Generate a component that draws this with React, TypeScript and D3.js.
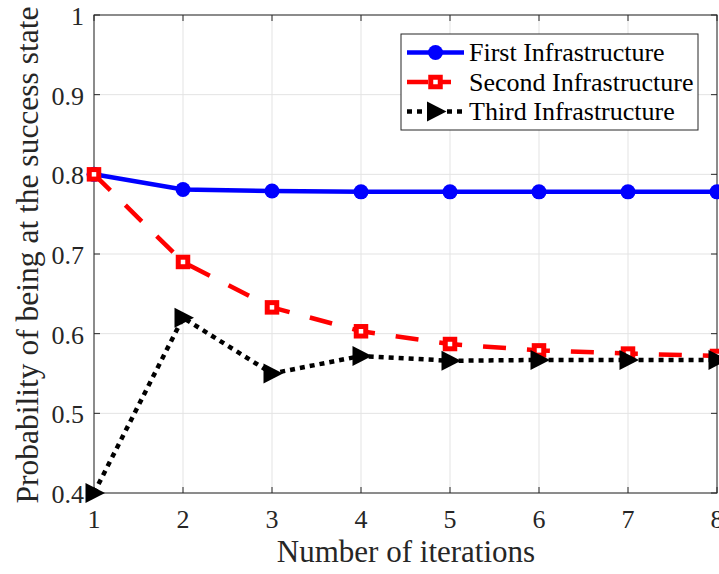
import React from "react";
import * as d3 from "d3";

const iterations = [1, 2, 3, 4, 5, 6, 7, 8];
const firstInfra = [0.8, 0.781, 0.779, 0.778, 0.778, 0.778, 0.778, 0.778];
const secondInfra = [0.8, 0.69, 0.633, 0.603, 0.587, 0.579, 0.575, 0.572];
const thirdInfra = [0.4, 0.62, 0.55, 0.572, 0.566, 0.567, 0.567, 0.567];
const xTicks = [1, 2, 3, 4, 5, 6, 7, 8];
const yTicks = [0.4, 0.5, 0.6, 0.7, 0.8, 0.9, 1];
const seriesNames = ["First Infrastructure", "Second Infrastructure", "Third Infrastructure"];

const W = 719;
const H = 574;
const M = { left: 94, right: 717, top: 15, bottom: 493 };
const FONT = "'Liberation Serif', 'Times New Roman', serif";

export default function App() {
  const x = d3.scaleLinear().domain([1, 8]).range([M.left, M.right]);
  const y = d3.scaleLinear().domain([0.4, 1]).range([M.bottom, M.top]);
  const line = d3
    .line<number>()
    .x((_, i) => x(iterations[i]))
    .y((d) => y(d));

  const series = [
    { name: seriesNames[0], data: firstInfra, color: "#0000ff", width: 4.5, dash: "none", legendDash: "none", marker: "circle" },
    { name: seriesNames[1], data: secondInfra, color: "#ff0000", width: 4.5, dash: "23 21", legendDash: "21 12 11 20", marker: "square" },
    { name: seriesNames[2], data: thirdInfra, color: "#000000", width: 4.5, dash: "5 5", legendDash: "5 5", marker: "triangle" },
  ];

  const drawMarker = (kind: string, cx: number, cy: number, color: string, key: string, scale = 1) => {
    if (kind === "circle") return <circle key={key} cx={cx} cy={cy} r={7.5 * scale} fill={color} />;
    if (kind === "square")
      return (
        <rect key={key} x={cx - 4.75} y={cy - 4.75} width={9.5} height={9.5} fill="white" stroke={color} strokeWidth={5} />
      );
    const s = 10 * scale;
    return (
      <path
        key={key}
        d={`M${cx - s * 0.85},${cy - s} L${cx + s * 1.1},${cy} L${cx - s * 0.85},${cy + s} Z`}
        fill={color}
      />
    );
  };

  const legend = { x: 401, y: 34, w: 297, h: 96 };
  const rowY = [52.5, 82, 111.5];

  return (
    <svg width={W} height={H} style={{ display: "block", position: "absolute", left: 0, top: 0, background: "white" }}>
      <rect x={0} y={0} width={W} height={H} fill="white" />
      {/* grid */}
      {xTicks.map((t) => (
        <line key={"gx" + t} x1={x(t)} x2={x(t)} y1={M.top} y2={M.bottom} stroke="#e3e3e3" strokeWidth={1} />
      ))}
      {yTicks.map((t) => (
        <line key={"gy" + t} x1={M.left} x2={M.right} y1={y(t)} y2={y(t)} stroke="#e3e3e3" strokeWidth={1} />
      ))}
      {/* axes box */}
      <rect x={M.left} y={M.top} width={M.right - M.left} height={M.bottom - M.top} fill="none" stroke="#262626" strokeWidth={1} />
      {xTicks.map((t) => (
        <g key={"tx" + t}>
          <line x1={x(t)} x2={x(t)} y1={M.bottom} y2={M.bottom - 6} stroke="#262626" />
          <line x1={x(t)} x2={x(t)} y1={M.top} y2={M.top + 6} stroke="#262626" />
          <text x={x(t)} y={528} textAnchor="middle" fontFamily={FONT} fontSize={26} fill="#262626">
            {t}
          </text>
        </g>
      ))}
      {yTicks.map((t) => (
        <g key={"ty" + t}>
          <line x1={M.left} x2={M.left + 6} y1={y(t)} y2={y(t)} stroke="#262626" />
          <line x1={M.right} x2={M.right - 6} y1={y(t)} y2={y(t)} stroke="#262626" />
          <text x={84} y={y(t) + 10} textAnchor="end" fontFamily={FONT} fontSize={26} fill="#262626">
            {d3.format("")(t)}
          </text>
        </g>
      ))}
      <text x={406} y={562} textAnchor="middle" fontFamily={FONT} fontSize={31} fill="#262626">
        Number of iterations
      </text>
      <text
        transform={`translate(38,${(M.top + M.bottom) / 2 + 1}) rotate(-90)`}
        textAnchor="middle"
        fontFamily={FONT}
        fontSize={31.5}
        fill="#262626"
      >
        Probability of being at the success state
      </text>
      {/* series */}
      {series.map((s) => (
        <g key={s.name}>
          <path d={line(s.data) || ""} fill="none" stroke={s.color} strokeWidth={s.width} strokeDasharray={s.dash} />
          {s.data.map((v, i) => drawMarker(s.marker, x(iterations[i]), y(v), s.color, s.name + i))}
        </g>
      ))}
      {/* legend */}
      <rect x={legend.x} y={legend.y} width={legend.w} height={legend.h} fill="white" stroke="#262626" strokeWidth={1} />
      {series.map((s, i) => (
        <g key={"lg" + i}>
          <line x1={407} x2={464} y1={rowY[i]} y2={rowY[i]} stroke={s.color} strokeWidth={s.width} strokeDasharray={s.legendDash} />
          {drawMarker(s.marker, 435.5, rowY[i], s.color, "lm" + i)}
          <text x={469} y={rowY[i] + 8.5} fontFamily={FONT} fontSize={26} fill="#000">
            {s.name}
          </text>
        </g>
      ))}
    </svg>
  );
}
